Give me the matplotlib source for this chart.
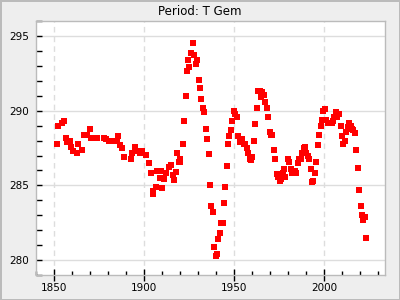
import numpy as np
import matplotlib
matplotlib.use('Agg')
import matplotlib.pyplot as plt
from matplotlib.ticker import MultipleLocator

years = [1852.1, 1852.7, 1854.9, 1856.0, 1856.6, 1857.7, 1859.3, 1859.9, 1861.0, 1863.2,
         1863.8, 1866.0, 1867.1, 1868.8, 1870.4, 1871.0, 1874.3, 1878.2, 1879.3, 1881.0,
         1882.1, 1885.4, 1886.0, 1886.6, 1888.2, 1889.3, 1893.2, 1893.7, 1895.4, 1896.0,
         1897.7, 1899.3, 1901.0, 1903.2, 1904.3, 1904.9, 1905.4, 1906.6, 1907.3, 1908.4,
         1908.8, 1909.6, 1910.4, 1911.0, 1912.1, 1914.3, 1914.9, 1916.0, 1916.6, 1917.7,
         1918.2, 1919.3, 1919.9, 1920.4, 1921.6, 1922.1, 1923.2, 1923.8, 1924.3, 1925.4,
         1926.0, 1927.1, 1927.7, 1928.8, 1929.3, 1930.4, 1931.0, 1931.6, 1932.7, 1933.2,
         1934.3, 1934.9, 1936.0, 1936.6, 1937.1, 1938.2, 1938.8, 1939.9, 1940.4, 1941.0,
         1942.1, 1942.7, 1943.8, 1944.3, 1944.9, 1946.0, 1946.6, 1947.1, 1948.2, 1948.8,
         1949.9, 1950.4, 1951.6, 1952.1, 1953.2, 1954.3, 1955.4, 1956.0, 1957.1, 1957.7,
         1958.8, 1959.3, 1959.9, 1961.0, 1961.6, 1962.7, 1963.2, 1964.3, 1964.9, 1965.4,
         1966.6, 1967.1, 1968.2, 1968.8, 1969.9, 1970.4, 1971.0, 1972.1, 1972.7, 1973.8,
         1974.3, 1975.4, 1976.0, 1977.1, 1977.7, 1978.2, 1979.9, 1980.4, 1981.6, 1982.1,
         1983.8, 1984.3, 1985.4, 1986.0, 1987.1, 1987.7, 1988.8, 1989.3, 1989.9, 1991.0,
         1991.6, 1992.7, 1993.2, 1993.8, 1994.9, 1995.4, 1996.6, 1997.1, 1998.2, 1998.8,
         1999.3, 2000.4, 2001.0, 2002.1, 2003.2, 2004.3, 2004.9, 2005.4, 2006.6, 2007.1,
         2008.2, 2009.3, 2009.9, 2010.4, 2011.6, 2012.1, 2013.2, 2013.8, 2014.9, 2015.4,
         2016.0, 2017.1, 2017.7, 2018.8, 2019.3, 2020.4, 2021.0, 2021.6, 2022.7, 2023.2]

periods = [287.8, 289.0, 289.2, 289.3, 288.15, 287.9, 287.95, 287.55, 287.3, 287.2,
           287.75, 287.4, 288.4, 288.4, 288.75, 288.2, 288.15, 288.2, 288.1, 287.95,
           288.0, 287.95, 288.3, 287.7, 287.5, 286.9, 286.8, 287.2, 287.55, 287.3,
           287.2, 287.3, 287.05, 286.5, 285.8, 284.65, 284.4, 284.9, 285.95, 285.95,
           285.5, 285.95, 284.8, 285.4, 285.8, 286.2, 286.35, 285.7, 285.35, 285.9,
           287.2, 286.6, 286.8, 286.55, 287.75, 289.3, 291.0, 292.65, 293.4, 292.95,
           293.85, 294.5, 293.7, 293.1, 293.4, 292.05, 291.5, 290.8, 290.2, 289.9,
           288.75, 288.1, 287.1, 285.0, 283.65, 283.25, 280.9, 280.3, 280.4, 281.4,
           281.85, 282.5, 282.5, 283.85, 284.9, 286.3, 287.8, 288.3, 288.7, 289.3,
           289.95, 289.8, 289.55, 288.3, 287.9, 288.1, 287.8, 287.75, 287.5, 287.2,
           286.8, 286.7, 286.9, 288.0, 289.1, 290.2, 291.3, 291.35, 290.9, 291.25,
           291.05, 290.6, 290.15, 289.55, 288.6, 288.35, 288.4, 287.4, 286.75, 285.75,
           285.55, 285.3, 285.4, 285.8, 286.1, 285.55, 286.8, 286.55, 286.1, 285.8,
           285.95, 285.8, 286.5, 286.8, 286.8, 287.2, 287.5, 287.6, 287.2, 286.95,
           286.75, 286.1, 285.2, 285.3, 285.8, 286.6, 287.7, 288.35, 289.0, 289.4,
           290.0, 290.1, 289.35, 289.2, 289.2, 289.15, 289.3, 289.6, 289.9, 289.6,
           289.75, 289.0, 288.3, 287.8, 288.0, 288.55, 288.9, 289.2, 289.0, 288.75,
           288.7, 288.5, 287.4, 286.15, 284.7, 283.65, 283.0, 282.7, 282.9, 281.45]

fig = plt.figure(figsize=(4, 3), dpi=100, facecolor='#eeeeee',
                 edgecolor='#bbbbbb', linewidth=2)
ax = fig.add_axes([0.089, 0.083, 0.874, 0.847])
ax.set_facecolor('white')

ax.scatter(years, periods, marker='s', s=20, color='#ff0000', linewidths=0, zorder=3)

ax.set_xlim(1840, 2034)
ax.set_ylim(279, 296)
ax.xaxis.set_major_locator(MultipleLocator(50))
ax.xaxis.set_minor_locator(MultipleLocator(10))
ax.yaxis.set_major_locator(MultipleLocator(5))
ax.yaxis.set_minor_locator(MultipleLocator(1))

ax.grid(axis='y', which='major', color='#dddddd', linewidth=1)
ax.grid(axis='x', which='major', color='#dddddd', linewidth=1, linestyle=(0, (4, 3)))
ax.set_axisbelow(True)

ax.tick_params(axis='x', which='major', direction='inout', length=8, width=1,
               labelsize=7.5, pad=2)
ax.tick_params(axis='x', which='minor', direction='in', length=3, width=1)
ax.tick_params(axis='y', which='both', direction='in', length=4, width=1,
               labelsize=7.5, pad=5)

for s in ax.spines.values():
    s.set_color('#bbbbbb')
    s.set_linewidth(1)

fig.text(0.5, 0.963, 'Period: T Gem', ha='center', va='center', fontsize=8.5)

fig.savefig('out.png', dpi=100, facecolor=fig.get_facecolor(), edgecolor=fig.get_edgecolor())
